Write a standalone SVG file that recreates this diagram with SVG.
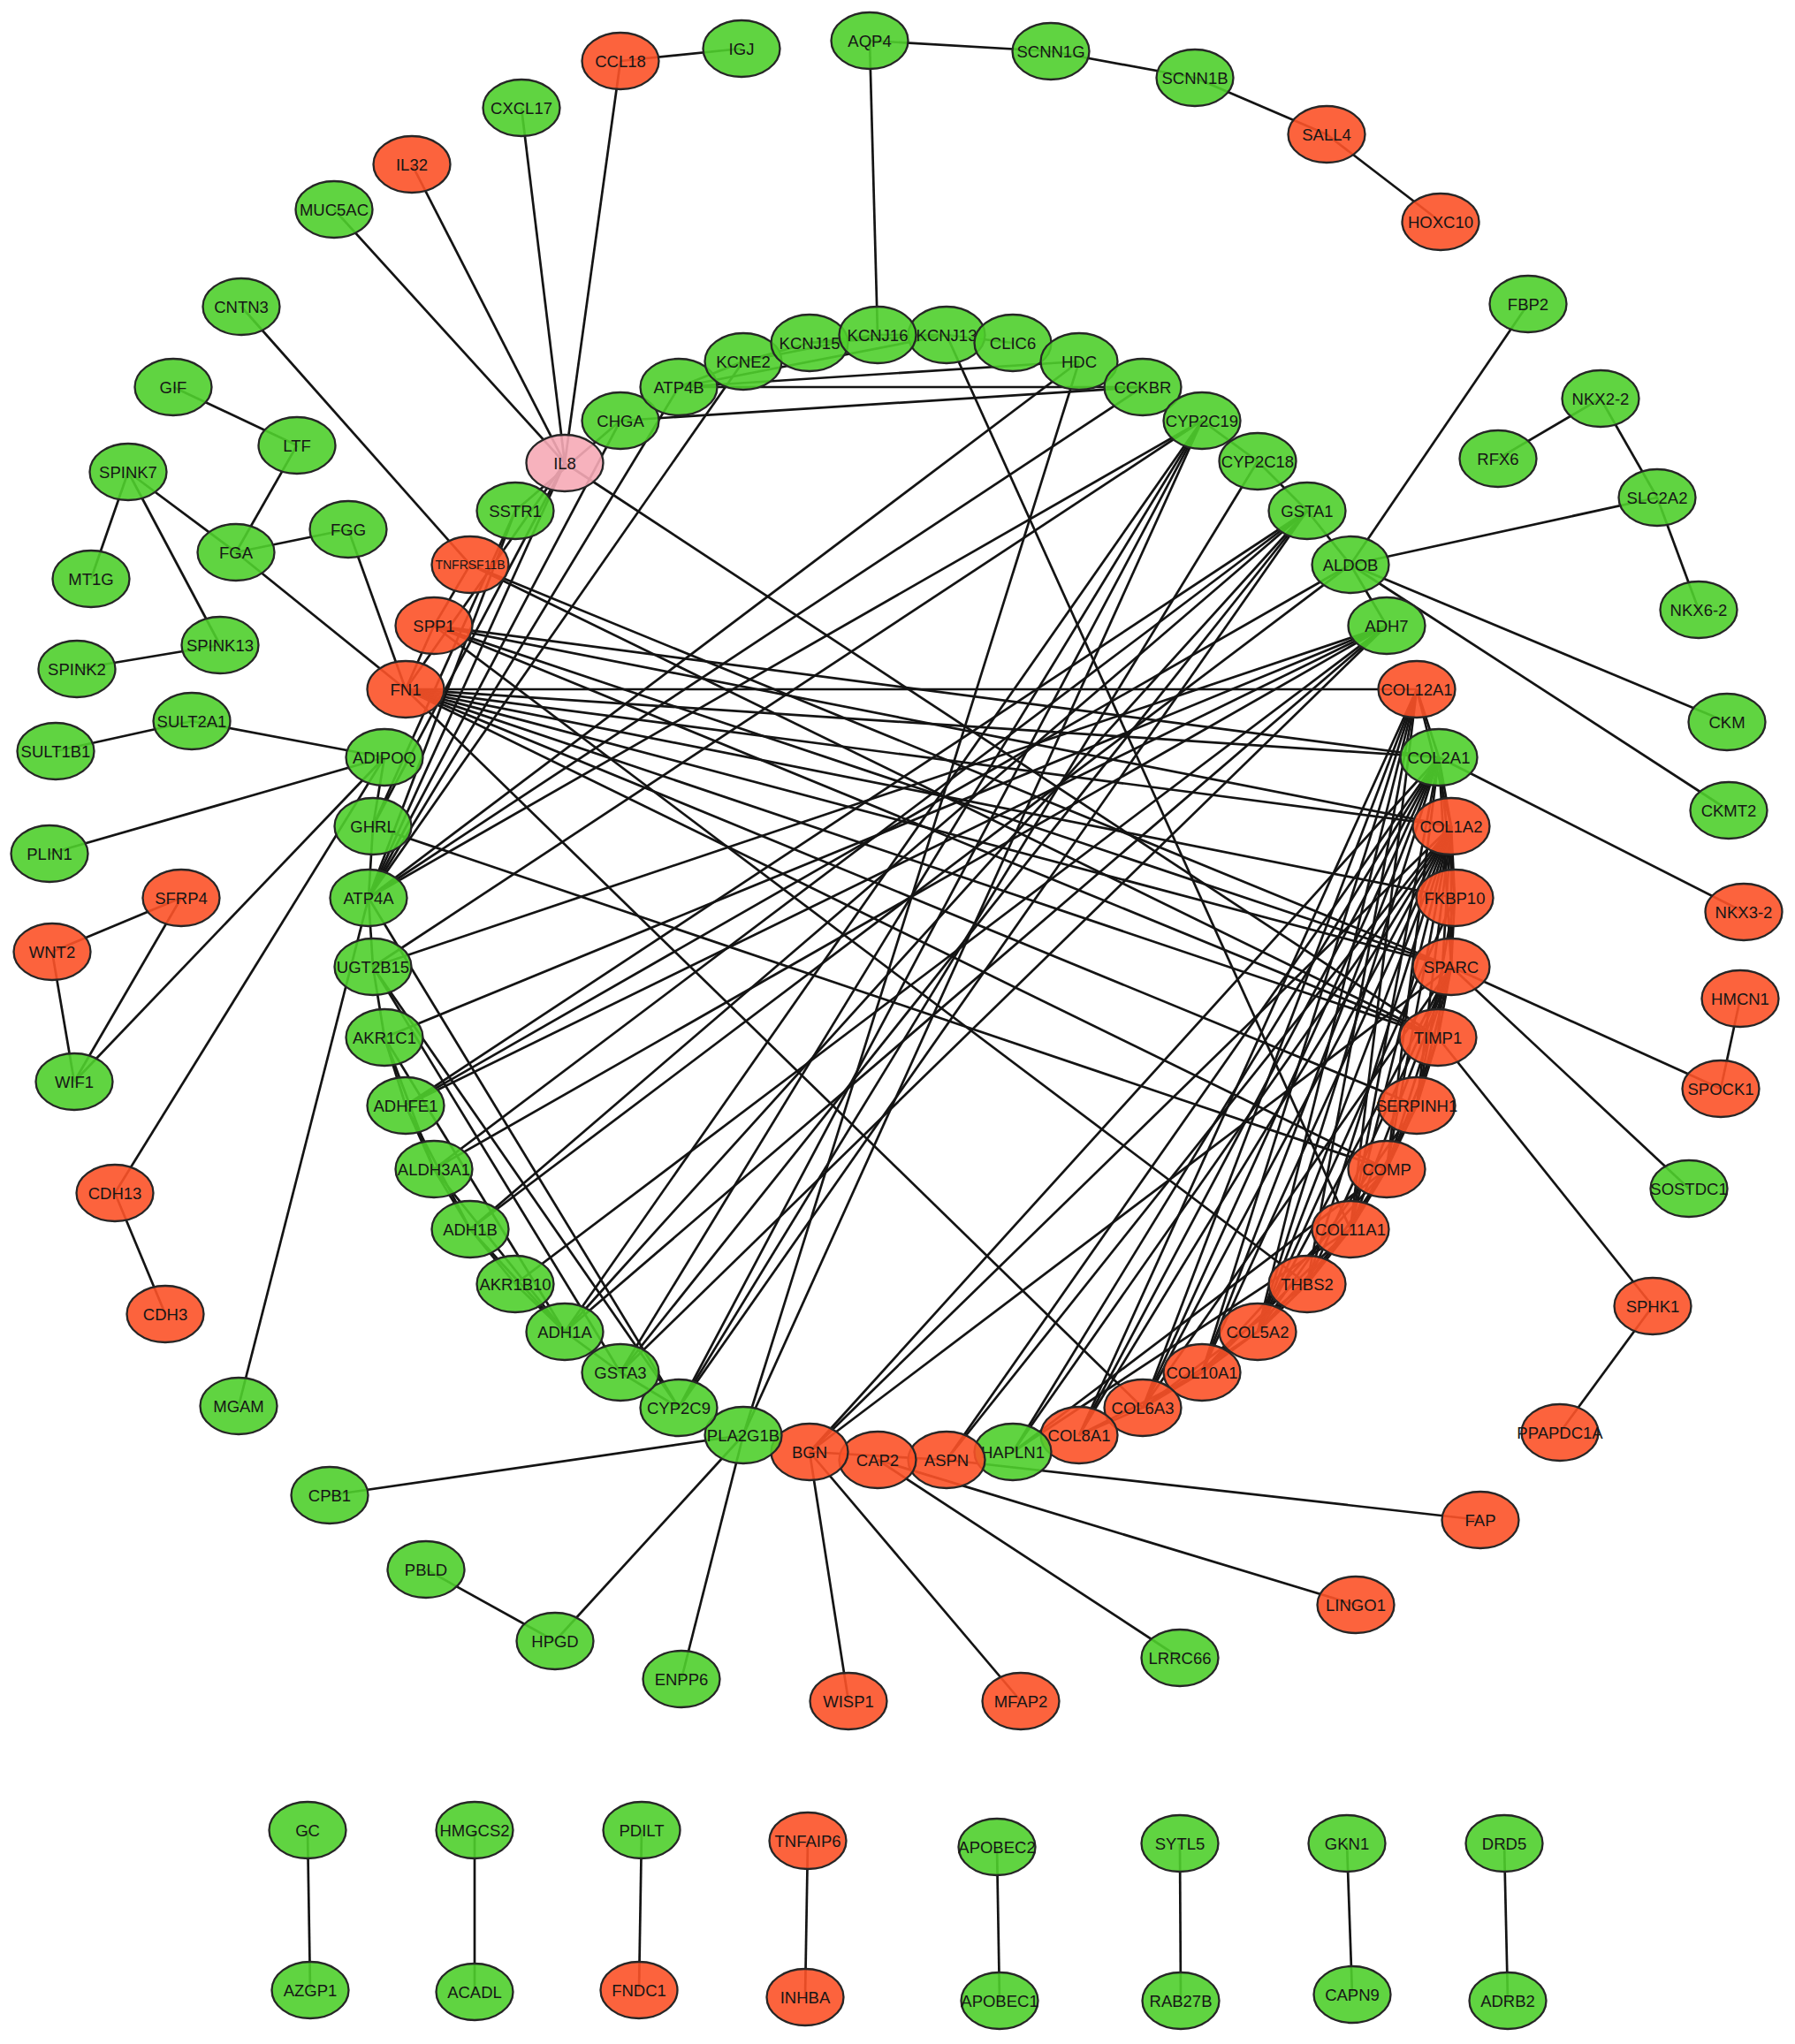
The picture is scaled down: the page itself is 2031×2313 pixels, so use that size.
<svg xmlns="http://www.w3.org/2000/svg" width="2031" height="2313" viewBox="0 0 2031 2313">
<style>
.e line{stroke:#141414;stroke-width:2.7}
.n ellipse{stroke:#262626;stroke-width:2.3;fill-opacity:.9}
.g ellipse{fill:#4fcf2c}
.r ellipse{fill:#fc5228}
.p ellipse{fill:#f6aab6}
.n text{font-family:"Liberation Sans",Arial,sans-serif;font-size:18.5px;text-anchor:middle;fill:#161616}
.n text.s{font-size:14px}
</style>
<rect width="2031" height="2313" fill="#fff"/>
<g id="edges" class="e">
<line x1="702" y1="69" x2="839" y2="55"/>
<line x1="702" y1="69" x2="639" y2="524"/>
<line x1="590" y1="122" x2="639" y2="524"/>
<line x1="466" y1="186" x2="639" y2="524"/>
<line x1="378" y1="237" x2="639" y2="524"/>
<line x1="273" y1="347" x2="532" y2="639"/>
<line x1="196" y1="438" x2="336" y2="504"/>
<line x1="336" y1="504" x2="267" y2="625"/>
<line x1="145" y1="534" x2="103" y2="655"/>
<line x1="145" y1="534" x2="267" y2="625"/>
<line x1="145" y1="534" x2="249" y2="730"/>
<line x1="394" y1="599" x2="267" y2="625"/>
<line x1="394" y1="599" x2="459" y2="780"/>
<line x1="267" y1="625" x2="459" y2="780"/>
<line x1="249" y1="730" x2="87" y2="757"/>
<line x1="217" y1="816" x2="63" y2="850"/>
<line x1="217" y1="816" x2="435" y2="857"/>
<line x1="56" y1="966" x2="435" y2="857"/>
<line x1="205" y1="1016" x2="59" y2="1077"/>
<line x1="205" y1="1016" x2="84" y2="1224"/>
<line x1="59" y1="1077" x2="84" y2="1224"/>
<line x1="84" y1="1224" x2="435" y2="857"/>
<line x1="130" y1="1350" x2="435" y2="857"/>
<line x1="130" y1="1350" x2="187" y2="1487"/>
<line x1="270" y1="1591" x2="417" y2="1016"/>
<line x1="984" y1="46" x2="1189" y2="58"/>
<line x1="1189" y1="58" x2="1352" y2="88"/>
<line x1="1352" y1="88" x2="1501" y2="152"/>
<line x1="1501" y1="152" x2="1630" y2="251"/>
<line x1="984" y1="46" x2="993" y2="379"/>
<line x1="1729" y1="344" x2="1528" y2="639"/>
<line x1="1811" y1="451" x2="1695" y2="519"/>
<line x1="1811" y1="451" x2="1875" y2="563"/>
<line x1="1875" y1="563" x2="1922" y2="690"/>
<line x1="1875" y1="563" x2="1528" y2="639"/>
<line x1="1528" y1="639" x2="1954" y2="817"/>
<line x1="1528" y1="639" x2="1956" y2="917"/>
<line x1="1628" y1="857" x2="1973" y2="1032"/>
<line x1="1969" y1="1130" x2="1947" y2="1232"/>
<line x1="1642" y1="1094" x2="1947" y2="1232"/>
<line x1="1642" y1="1094" x2="1911" y2="1345"/>
<line x1="1627" y1="1174" x2="1870" y2="1478"/>
<line x1="1870" y1="1478" x2="1765" y2="1621"/>
<line x1="1071" y1="1652" x2="1675" y2="1720"/>
<line x1="993" y1="1652" x2="1534" y2="1816"/>
<line x1="993" y1="1652" x2="1335" y2="1876"/>
<line x1="916" y1="1643" x2="960" y2="1925"/>
<line x1="916" y1="1643" x2="1155" y2="1925"/>
<line x1="841" y1="1624" x2="373" y2="1692"/>
<line x1="841" y1="1624" x2="628" y2="1857"/>
<line x1="841" y1="1624" x2="771" y2="1900"/>
<line x1="482" y1="1776" x2="628" y2="1857"/>
<line x1="348" y1="2071" x2="351" y2="2252"/>
<line x1="537" y1="2071" x2="537" y2="2254"/>
<line x1="726" y1="2071" x2="723" y2="2252"/>
<line x1="914" y1="2083" x2="911" y2="2260"/>
<line x1="1128" y1="2090" x2="1131" y2="2264"/>
<line x1="1335" y1="2086" x2="1336" y2="2264"/>
<line x1="1524" y1="2086" x2="1530" y2="2257"/>
<line x1="1702" y1="2086" x2="1706" y2="2264"/>
<line x1="639" y1="524" x2="459" y2="780"/>
<line x1="639" y1="524" x2="1627" y2="1174"/>
<line x1="639" y1="524" x2="417" y2="1016"/>
<line x1="639" y1="524" x2="422" y2="935"/>
<line x1="702" y1="476" x2="583" y2="578"/>
<line x1="702" y1="476" x2="417" y2="1016"/>
<line x1="702" y1="476" x2="1293" y2="438"/>
<line x1="583" y1="578" x2="417" y2="1016"/>
<line x1="583" y1="578" x2="422" y2="935"/>
<line x1="768" y1="438" x2="417" y2="1016"/>
<line x1="768" y1="438" x2="1293" y2="438"/>
<line x1="768" y1="438" x2="1221" y2="409"/>
<line x1="768" y1="438" x2="841" y2="409"/>
<line x1="768" y1="438" x2="1071" y2="379"/>
<line x1="841" y1="409" x2="916" y2="388"/>
<line x1="841" y1="409" x2="993" y2="379"/>
<line x1="916" y1="388" x2="993" y2="379"/>
<line x1="993" y1="379" x2="1071" y2="379"/>
<line x1="916" y1="388" x2="1071" y2="379"/>
<line x1="1071" y1="379" x2="1146" y2="388"/>
<line x1="841" y1="409" x2="417" y2="1016"/>
<line x1="1221" y1="409" x2="417" y2="1016"/>
<line x1="1293" y1="438" x2="417" y2="1016"/>
<line x1="1071" y1="379" x2="1528" y2="1391"/>
<line x1="1360" y1="476" x2="417" y2="1016"/>
<line x1="1360" y1="476" x2="422" y2="1094"/>
<line x1="1360" y1="476" x2="1423" y2="522"/>
<line x1="1360" y1="476" x2="768" y2="1593"/>
<line x1="1360" y1="476" x2="702" y2="1553"/>
<line x1="1360" y1="476" x2="639" y2="1507"/>
<line x1="1360" y1="476" x2="841" y2="1624"/>
<line x1="1423" y1="522" x2="768" y2="1593"/>
<line x1="1423" y1="522" x2="1479" y2="578"/>
<line x1="1479" y1="578" x2="702" y2="1553"/>
<line x1="1479" y1="578" x2="768" y2="1593"/>
<line x1="1479" y1="578" x2="639" y2="1507"/>
<line x1="1479" y1="578" x2="532" y2="1391"/>
<line x1="1479" y1="578" x2="491" y2="1323"/>
<line x1="1479" y1="578" x2="459" y2="1251"/>
<line x1="1479" y1="578" x2="1528" y2="639"/>
<line x1="1528" y1="639" x2="532" y2="1391"/>
<line x1="1528" y1="639" x2="459" y2="1251"/>
<line x1="1528" y1="639" x2="1569" y2="708"/>
<line x1="1569" y1="708" x2="435" y2="1174"/>
<line x1="1569" y1="708" x2="459" y2="1251"/>
<line x1="1569" y1="708" x2="583" y2="1453"/>
<line x1="1569" y1="708" x2="639" y2="1507"/>
<line x1="1569" y1="708" x2="702" y2="1553"/>
<line x1="1569" y1="708" x2="491" y2="1323"/>
<line x1="1569" y1="708" x2="422" y2="1094"/>
<line x1="417" y1="1016" x2="768" y2="1593"/>
<line x1="422" y1="1094" x2="768" y2="1593"/>
<line x1="417" y1="1016" x2="422" y2="935"/>
<line x1="435" y1="857" x2="422" y2="935"/>
<line x1="417" y1="1016" x2="422" y2="1094"/>
<line x1="422" y1="1094" x2="435" y2="1174"/>
<line x1="435" y1="1174" x2="459" y2="1251"/>
<line x1="459" y1="1251" x2="491" y2="1323"/>
<line x1="491" y1="1323" x2="532" y2="1391"/>
<line x1="532" y1="1391" x2="583" y2="1453"/>
<line x1="583" y1="1453" x2="639" y2="1507"/>
<line x1="639" y1="1507" x2="702" y2="1553"/>
<line x1="702" y1="1553" x2="768" y2="1593"/>
<line x1="435" y1="1174" x2="639" y2="1507"/>
<line x1="459" y1="1251" x2="532" y2="1391"/>
<line x1="491" y1="1323" x2="639" y2="1507"/>
<line x1="532" y1="1391" x2="639" y2="1507"/>
<line x1="435" y1="1174" x2="491" y2="1323"/>
<line x1="422" y1="1094" x2="702" y2="1553"/>
<line x1="459" y1="780" x2="491" y2="708"/>
<line x1="459" y1="780" x2="1603" y2="780"/>
<line x1="459" y1="780" x2="1628" y2="857"/>
<line x1="459" y1="780" x2="1642" y2="935"/>
<line x1="459" y1="780" x2="1646" y2="1016"/>
<line x1="459" y1="780" x2="1642" y2="1094"/>
<line x1="459" y1="780" x2="1627" y2="1174"/>
<line x1="459" y1="780" x2="1603" y2="1251"/>
<line x1="459" y1="780" x2="1569" y2="1323"/>
<line x1="459" y1="780" x2="1293" y2="1593"/>
<line x1="491" y1="708" x2="1628" y2="857"/>
<line x1="491" y1="708" x2="1642" y2="935"/>
<line x1="491" y1="708" x2="1642" y2="1094"/>
<line x1="491" y1="708" x2="1627" y2="1174"/>
<line x1="491" y1="708" x2="1479" y2="1453"/>
<line x1="491" y1="708" x2="532" y2="639"/>
<line x1="532" y1="639" x2="1642" y2="1094"/>
<line x1="532" y1="639" x2="1627" y2="1174"/>
<line x1="422" y1="935" x2="1569" y2="1323"/>
<line x1="841" y1="1624" x2="1221" y2="409"/>
<line x1="1603" y1="780" x2="1628" y2="857"/>
<line x1="1603" y1="780" x2="1642" y2="935"/>
<line x1="1603" y1="780" x2="1528" y2="1391"/>
<line x1="1603" y1="780" x2="1479" y2="1453"/>
<line x1="1603" y1="780" x2="1423" y2="1507"/>
<line x1="1603" y1="780" x2="1360" y2="1553"/>
<line x1="1603" y1="780" x2="1293" y2="1593"/>
<line x1="1603" y1="780" x2="1221" y2="1624"/>
<line x1="1628" y1="857" x2="1642" y2="935"/>
<line x1="1628" y1="857" x2="1646" y2="1016"/>
<line x1="1628" y1="857" x2="1642" y2="1094"/>
<line x1="1628" y1="857" x2="1569" y2="1323"/>
<line x1="1628" y1="857" x2="1528" y2="1391"/>
<line x1="1628" y1="857" x2="1423" y2="1507"/>
<line x1="1628" y1="857" x2="1360" y2="1553"/>
<line x1="1628" y1="857" x2="1293" y2="1593"/>
<line x1="1628" y1="857" x2="1221" y2="1624"/>
<line x1="1628" y1="857" x2="1146" y2="1643"/>
<line x1="1628" y1="857" x2="1071" y2="1652"/>
<line x1="1628" y1="857" x2="916" y2="1643"/>
<line x1="1642" y1="935" x2="1646" y2="1016"/>
<line x1="1642" y1="935" x2="1642" y2="1094"/>
<line x1="1642" y1="935" x2="1627" y2="1174"/>
<line x1="1642" y1="935" x2="1603" y2="1251"/>
<line x1="1642" y1="935" x2="1569" y2="1323"/>
<line x1="1642" y1="935" x2="1528" y2="1391"/>
<line x1="1642" y1="935" x2="1479" y2="1453"/>
<line x1="1642" y1="935" x2="1423" y2="1507"/>
<line x1="1642" y1="935" x2="1360" y2="1553"/>
<line x1="1642" y1="935" x2="1293" y2="1593"/>
<line x1="1642" y1="935" x2="1221" y2="1624"/>
<line x1="1642" y1="935" x2="1146" y2="1643"/>
<line x1="1642" y1="935" x2="1071" y2="1652"/>
<line x1="1642" y1="935" x2="916" y2="1643"/>
<line x1="1646" y1="1016" x2="1642" y2="1094"/>
<line x1="1646" y1="1016" x2="1603" y2="1251"/>
<line x1="1646" y1="1016" x2="1423" y2="1507"/>
<line x1="1642" y1="1094" x2="1627" y2="1174"/>
<line x1="1642" y1="1094" x2="1603" y2="1251"/>
<line x1="1642" y1="1094" x2="1569" y2="1323"/>
<line x1="1642" y1="1094" x2="1528" y2="1391"/>
<line x1="1642" y1="1094" x2="1479" y2="1453"/>
<line x1="1642" y1="1094" x2="1423" y2="1507"/>
<line x1="1642" y1="1094" x2="1293" y2="1593"/>
<line x1="1642" y1="1094" x2="916" y2="1643"/>
<line x1="1627" y1="1174" x2="1603" y2="1251"/>
<line x1="1627" y1="1174" x2="1569" y2="1323"/>
<line x1="1603" y1="1251" x2="1569" y2="1323"/>
<line x1="1603" y1="1251" x2="1528" y2="1391"/>
<line x1="1603" y1="1251" x2="1423" y2="1507"/>
<line x1="1569" y1="1323" x2="1528" y2="1391"/>
<line x1="1569" y1="1323" x2="1479" y2="1453"/>
<line x1="1569" y1="1323" x2="1360" y2="1553"/>
<line x1="1569" y1="1323" x2="1146" y2="1643"/>
<line x1="1528" y1="1391" x2="1479" y2="1453"/>
<line x1="1528" y1="1391" x2="1423" y2="1507"/>
<line x1="1528" y1="1391" x2="1360" y2="1553"/>
<line x1="1528" y1="1391" x2="1146" y2="1643"/>
<line x1="1479" y1="1453" x2="1423" y2="1507"/>
<line x1="1479" y1="1453" x2="1293" y2="1593"/>
<line x1="1423" y1="1507" x2="1360" y2="1553"/>
<line x1="1423" y1="1507" x2="1293" y2="1593"/>
<line x1="1360" y1="1553" x2="1293" y2="1593"/>
<line x1="1360" y1="1553" x2="1221" y2="1624"/>
<line x1="1293" y1="1593" x2="1221" y2="1624"/>
<line x1="1071" y1="1652" x2="916" y2="1643"/>
</g>
<g id="nodes">
<g id="n-CCL18" class="n r"><ellipse cx="702" cy="69" rx="43.5" ry="32"/><text x="702" y="75.5">CCL18</text></g>
<g id="n-IGJ" class="n g"><ellipse cx="839" cy="55" rx="43.5" ry="32"/><text x="839" y="61.5">IGJ</text></g>
<g id="n-CXCL17" class="n g"><ellipse cx="590" cy="122" rx="43.5" ry="32"/><text x="590" y="128.5">CXCL17</text></g>
<g id="n-IL32" class="n r"><ellipse cx="466" cy="186" rx="43.5" ry="32"/><text x="466" y="192.5">IL32</text></g>
<g id="n-MUC5AC" class="n g"><ellipse cx="378" cy="237" rx="43.5" ry="32"/><text x="378" y="243.5">MUC5AC</text></g>
<g id="n-CNTN3" class="n g"><ellipse cx="273" cy="347" rx="43.5" ry="32"/><text x="273" y="353.5">CNTN3</text></g>
<g id="n-GIF" class="n g"><ellipse cx="196" cy="438" rx="43.5" ry="32"/><text x="196" y="444.5">GIF</text></g>
<g id="n-LTF" class="n g"><ellipse cx="336" cy="504" rx="43.5" ry="32"/><text x="336" y="510.5">LTF</text></g>
<g id="n-SPINK7" class="n g"><ellipse cx="145" cy="534" rx="43.5" ry="32"/><text x="145" y="540.5">SPINK7</text></g>
<g id="n-FGG" class="n g"><ellipse cx="394" cy="599" rx="43.5" ry="32"/><text x="394" y="605.5">FGG</text></g>
<g id="n-FGA" class="n g"><ellipse cx="267" cy="625" rx="43.5" ry="32"/><text x="267" y="631.5">FGA</text></g>
<g id="n-MT1G" class="n g"><ellipse cx="103" cy="655" rx="43.5" ry="32"/><text x="103" y="661.5">MT1G</text></g>
<g id="n-SPINK13" class="n g"><ellipse cx="249" cy="730" rx="43.5" ry="32"/><text x="249" y="736.5">SPINK13</text></g>
<g id="n-SPINK2" class="n g"><ellipse cx="87" cy="757" rx="43.5" ry="32"/><text x="87" y="763.5">SPINK2</text></g>
<g id="n-SULT2A1" class="n g"><ellipse cx="217" cy="816" rx="43.5" ry="32"/><text x="217" y="822.5">SULT2A1</text></g>
<g id="n-SULT1B1" class="n g"><ellipse cx="63" cy="850" rx="43.5" ry="32"/><text x="63" y="856.5">SULT1B1</text></g>
<g id="n-PLIN1" class="n g"><ellipse cx="56" cy="966" rx="43.5" ry="32"/><text x="56" y="972.5">PLIN1</text></g>
<g id="n-SFRP4" class="n r"><ellipse cx="205" cy="1016" rx="43.5" ry="32"/><text x="205" y="1022.5">SFRP4</text></g>
<g id="n-WNT2" class="n r"><ellipse cx="59" cy="1077" rx="43.5" ry="32"/><text x="59" y="1083.5">WNT2</text></g>
<g id="n-WIF1" class="n g"><ellipse cx="84" cy="1224" rx="43.5" ry="32"/><text x="84" y="1230.5">WIF1</text></g>
<g id="n-CDH13" class="n r"><ellipse cx="130" cy="1350" rx="43.5" ry="32"/><text x="130" y="1356.5">CDH13</text></g>
<g id="n-CDH3" class="n r"><ellipse cx="187" cy="1487" rx="43.5" ry="32"/><text x="187" y="1493.5">CDH3</text></g>
<g id="n-MGAM" class="n g"><ellipse cx="270" cy="1591" rx="43.5" ry="32"/><text x="270" y="1597.5">MGAM</text></g>
<g id="n-AQP4" class="n g"><ellipse cx="984" cy="46" rx="43.5" ry="32"/><text x="984" y="52.5">AQP4</text></g>
<g id="n-SCNN1G" class="n g"><ellipse cx="1189" cy="58" rx="43.5" ry="32"/><text x="1189" y="64.5">SCNN1G</text></g>
<g id="n-SCNN1B" class="n g"><ellipse cx="1352" cy="88" rx="43.5" ry="32"/><text x="1352" y="94.5">SCNN1B</text></g>
<g id="n-SALL4" class="n r"><ellipse cx="1501" cy="152" rx="43.5" ry="32"/><text x="1501" y="158.5">SALL4</text></g>
<g id="n-HOXC10" class="n r"><ellipse cx="1630" cy="251" rx="43.5" ry="32"/><text x="1630" y="257.5">HOXC10</text></g>
<g id="n-FBP2" class="n g"><ellipse cx="1729" cy="344" rx="43.5" ry="32"/><text x="1729" y="350.5">FBP2</text></g>
<g id="n-NKX2-2" class="n g"><ellipse cx="1811" cy="451" rx="43.5" ry="32"/><text x="1811" y="457.5">NKX2-2</text></g>
<g id="n-RFX6" class="n g"><ellipse cx="1695" cy="519" rx="43.5" ry="32"/><text x="1695" y="525.5">RFX6</text></g>
<g id="n-SLC2A2" class="n g"><ellipse cx="1875" cy="563" rx="43.5" ry="32"/><text x="1875" y="569.5">SLC2A2</text></g>
<g id="n-NKX6-2" class="n g"><ellipse cx="1922" cy="690" rx="43.5" ry="32"/><text x="1922" y="696.5">NKX6-2</text></g>
<g id="n-CKM" class="n g"><ellipse cx="1954" cy="817" rx="43.5" ry="32"/><text x="1954" y="823.5">CKM</text></g>
<g id="n-CKMT2" class="n g"><ellipse cx="1956" cy="917" rx="43.5" ry="32"/><text x="1956" y="923.5">CKMT2</text></g>
<g id="n-NKX3-2" class="n r"><ellipse cx="1973" cy="1032" rx="43.5" ry="32"/><text x="1973" y="1038.5">NKX3-2</text></g>
<g id="n-HMCN1" class="n r"><ellipse cx="1969" cy="1130" rx="43.5" ry="32"/><text x="1969" y="1136.5">HMCN1</text></g>
<g id="n-SPOCK1" class="n r"><ellipse cx="1947" cy="1232" rx="43.5" ry="32"/><text x="1947" y="1238.5">SPOCK1</text></g>
<g id="n-SOSTDC1" class="n g"><ellipse cx="1911" cy="1345" rx="43.5" ry="32"/><text x="1911" y="1351.5">SOSTDC1</text></g>
<g id="n-SPHK1" class="n r"><ellipse cx="1870" cy="1478" rx="43.5" ry="32"/><text x="1870" y="1484.5">SPHK1</text></g>
<g id="n-PPAPDC1A" class="n r"><ellipse cx="1765" cy="1621" rx="43.5" ry="32"/><text x="1765" y="1627.5">PPAPDC1A</text></g>
<g id="n-FAP" class="n r"><ellipse cx="1675" cy="1720" rx="43.5" ry="32"/><text x="1675" y="1726.5">FAP</text></g>
<g id="n-LINGO1" class="n r"><ellipse cx="1534" cy="1816" rx="43.5" ry="32"/><text x="1534" y="1822.5">LINGO1</text></g>
<g id="n-LRRC66" class="n g"><ellipse cx="1335" cy="1876" rx="43.5" ry="32"/><text x="1335" y="1882.5">LRRC66</text></g>
<g id="n-MFAP2" class="n r"><ellipse cx="1155" cy="1925" rx="43.5" ry="32"/><text x="1155" y="1931.5">MFAP2</text></g>
<g id="n-WISP1" class="n r"><ellipse cx="960" cy="1925" rx="43.5" ry="32"/><text x="960" y="1931.5">WISP1</text></g>
<g id="n-ENPP6" class="n g"><ellipse cx="771" cy="1900" rx="43.5" ry="32"/><text x="771" y="1906.5">ENPP6</text></g>
<g id="n-HPGD" class="n g"><ellipse cx="628" cy="1857" rx="43.5" ry="32"/><text x="628" y="1863.5">HPGD</text></g>
<g id="n-PBLD" class="n g"><ellipse cx="482" cy="1776" rx="43.5" ry="32"/><text x="482" y="1782.5">PBLD</text></g>
<g id="n-CPB1" class="n g"><ellipse cx="373" cy="1692" rx="43.5" ry="32"/><text x="373" y="1698.5">CPB1</text></g>
<g id="n-IL8" class="n p"><ellipse cx="639" cy="524" rx="43.5" ry="32"/><text x="639" y="530.5">IL8</text></g>
<g id="n-CHGA" class="n g"><ellipse cx="702" cy="476" rx="43.5" ry="32"/><text x="702" y="482.5">CHGA</text></g>
<g id="n-ATP4B" class="n g"><ellipse cx="768" cy="438" rx="43.5" ry="32"/><text x="768" y="444.5">ATP4B</text></g>
<g id="n-KCNE2" class="n g"><ellipse cx="841" cy="409" rx="43.5" ry="32"/><text x="841" y="415.5">KCNE2</text></g>
<g id="n-KCNJ15" class="n g"><ellipse cx="916" cy="388" rx="43.5" ry="32"/><text x="916" y="394.5">KCNJ15</text></g>
<g id="n-KCNJ13" class="n g"><ellipse cx="1071" cy="379" rx="43.5" ry="32"/><text x="1071" y="385.5">KCNJ13</text></g>
<g id="n-KCNJ16" class="n g"><ellipse cx="993" cy="379" rx="43.5" ry="32"/><text x="993" y="385.5">KCNJ16</text></g>
<g id="n-CLIC6" class="n g"><ellipse cx="1146" cy="388" rx="43.5" ry="32"/><text x="1146" y="394.5">CLIC6</text></g>
<g id="n-HDC" class="n g"><ellipse cx="1221" cy="409" rx="43.5" ry="32"/><text x="1221" y="415.5">HDC</text></g>
<g id="n-CCKBR" class="n g"><ellipse cx="1293" cy="438" rx="43.5" ry="32"/><text x="1293" y="444.5">CCKBR</text></g>
<g id="n-CYP2C19" class="n g"><ellipse cx="1360" cy="476" rx="43.5" ry="32"/><text x="1360" y="482.5">CYP2C19</text></g>
<g id="n-CYP2C18" class="n g"><ellipse cx="1423" cy="522" rx="43.5" ry="32"/><text x="1423" y="528.5">CYP2C18</text></g>
<g id="n-GSTA1" class="n g"><ellipse cx="1479" cy="578" rx="43.5" ry="32"/><text x="1479" y="584.5">GSTA1</text></g>
<g id="n-ALDOB" class="n g"><ellipse cx="1528" cy="639" rx="43.5" ry="32"/><text x="1528" y="645.5">ALDOB</text></g>
<g id="n-ADH7" class="n g"><ellipse cx="1569" cy="708" rx="43.5" ry="32"/><text x="1569" y="714.5">ADH7</text></g>
<g id="n-COL12A1" class="n r"><ellipse cx="1603" cy="780" rx="43.5" ry="32"/><text x="1603" y="786.5">COL12A1</text></g>
<g id="n-COL2A1" class="n g"><ellipse cx="1628" cy="857" rx="43.5" ry="32"/><text x="1628" y="863.5">COL2A1</text></g>
<g id="n-COL1A2" class="n r"><ellipse cx="1642" cy="935" rx="43.5" ry="32"/><text x="1642" y="941.5">COL1A2</text></g>
<g id="n-FKBP10" class="n r"><ellipse cx="1646" cy="1016" rx="43.5" ry="32"/><text x="1646" y="1022.5">FKBP10</text></g>
<g id="n-SPARC" class="n r"><ellipse cx="1642" cy="1094" rx="43.5" ry="32"/><text x="1642" y="1100.5">SPARC</text></g>
<g id="n-TIMP1" class="n r"><ellipse cx="1627" cy="1174" rx="43.5" ry="32"/><text x="1627" y="1180.5">TIMP1</text></g>
<g id="n-SERPINH1" class="n r"><ellipse cx="1603" cy="1251" rx="43.5" ry="32"/><text x="1603" y="1257.5">SERPINH1</text></g>
<g id="n-COMP" class="n r"><ellipse cx="1569" cy="1323" rx="43.5" ry="32"/><text x="1569" y="1329.5">COMP</text></g>
<g id="n-COL11A1" class="n r"><ellipse cx="1528" cy="1391" rx="43.5" ry="32"/><text x="1528" y="1397.5">COL11A1</text></g>
<g id="n-THBS2" class="n r"><ellipse cx="1479" cy="1453" rx="43.5" ry="32"/><text x="1479" y="1459.5">THBS2</text></g>
<g id="n-COL5A2" class="n r"><ellipse cx="1423" cy="1507" rx="43.5" ry="32"/><text x="1423" y="1513.5">COL5A2</text></g>
<g id="n-COL10A1" class="n r"><ellipse cx="1360" cy="1553" rx="43.5" ry="32"/><text x="1360" y="1559.5">COL10A1</text></g>
<g id="n-COL6A3" class="n r"><ellipse cx="1293" cy="1593" rx="43.5" ry="32"/><text x="1293" y="1599.5">COL6A3</text></g>
<g id="n-COL8A1" class="n r"><ellipse cx="1221" cy="1624" rx="43.5" ry="32"/><text x="1221" y="1630.5">COL8A1</text></g>
<g id="n-HAPLN1" class="n g"><ellipse cx="1146" cy="1643" rx="43.5" ry="32"/><text x="1146" y="1649.5">HAPLN1</text></g>
<g id="n-ASPN" class="n r"><ellipse cx="1071" cy="1652" rx="43.5" ry="32"/><text x="1071" y="1658.5">ASPN</text></g>
<g id="n-CAP2" class="n r"><ellipse cx="993" cy="1652" rx="43.5" ry="32"/><text x="993" y="1658.5">CAP2</text></g>
<g id="n-BGN" class="n r"><ellipse cx="916" cy="1643" rx="43.5" ry="32"/><text x="916" y="1649.5">BGN</text></g>
<g id="n-PLA2G1B" class="n g"><ellipse cx="841" cy="1624" rx="43.5" ry="32"/><text x="841" y="1630.5">PLA2G1B</text></g>
<g id="n-CYP2C9" class="n g"><ellipse cx="768" cy="1593" rx="43.5" ry="32"/><text x="768" y="1599.5">CYP2C9</text></g>
<g id="n-GSTA3" class="n g"><ellipse cx="702" cy="1553" rx="43.5" ry="32"/><text x="702" y="1559.5">GSTA3</text></g>
<g id="n-ADH1A" class="n g"><ellipse cx="639" cy="1507" rx="43.5" ry="32"/><text x="639" y="1513.5">ADH1A</text></g>
<g id="n-AKR1B10" class="n g"><ellipse cx="583" cy="1453" rx="43.5" ry="32"/><text x="583" y="1459.5">AKR1B10</text></g>
<g id="n-ADH1B" class="n g"><ellipse cx="532" cy="1391" rx="43.5" ry="32"/><text x="532" y="1397.5">ADH1B</text></g>
<g id="n-ALDH3A1" class="n g"><ellipse cx="491" cy="1323" rx="43.5" ry="32"/><text x="491" y="1329.5">ALDH3A1</text></g>
<g id="n-ADHFE1" class="n g"><ellipse cx="459" cy="1251" rx="43.5" ry="32"/><text x="459" y="1257.5">ADHFE1</text></g>
<g id="n-AKR1C1" class="n g"><ellipse cx="435" cy="1174" rx="43.5" ry="32"/><text x="435" y="1180.5">AKR1C1</text></g>
<g id="n-UGT2B15" class="n g"><ellipse cx="422" cy="1094" rx="43.5" ry="32"/><text x="422" y="1100.5">UGT2B15</text></g>
<g id="n-ATP4A" class="n g"><ellipse cx="417" cy="1016" rx="43.5" ry="32"/><text x="417" y="1022.5">ATP4A</text></g>
<g id="n-GHRL" class="n g"><ellipse cx="422" cy="935" rx="43.5" ry="32"/><text x="422" y="941.5">GHRL</text></g>
<g id="n-ADIPOQ" class="n g"><ellipse cx="435" cy="857" rx="43.5" ry="32"/><text x="435" y="863.5">ADIPOQ</text></g>
<g id="n-FN1" class="n r"><ellipse cx="459" cy="780" rx="43.5" ry="32"/><text x="459" y="786.5">FN1</text></g>
<g id="n-SPP1" class="n r"><ellipse cx="491" cy="708" rx="43.5" ry="32"/><text x="491" y="714.5">SPP1</text></g>
<g id="n-TNFRSF11B" class="n r"><ellipse cx="532" cy="639" rx="43.5" ry="32"/><text class="s" x="532" y="644">TNFRSF11B</text></g>
<g id="n-SSTR1" class="n g"><ellipse cx="583" cy="578" rx="43.5" ry="32"/><text x="583" y="584.5">SSTR1</text></g>
<g id="n-GC" class="n g"><ellipse cx="348" cy="2071" rx="43.5" ry="32"/><text x="348" y="2077.5">GC</text></g>
<g id="n-AZGP1" class="n g"><ellipse cx="351" cy="2252" rx="43.5" ry="32"/><text x="351" y="2258.5">AZGP1</text></g>
<g id="n-HMGCS2" class="n g"><ellipse cx="537" cy="2071" rx="43.5" ry="32"/><text x="537" y="2077.5">HMGCS2</text></g>
<g id="n-ACADL" class="n g"><ellipse cx="537" cy="2254" rx="43.5" ry="32"/><text x="537" y="2260.5">ACADL</text></g>
<g id="n-PDILT" class="n g"><ellipse cx="726" cy="2071" rx="43.5" ry="32"/><text x="726" y="2077.5">PDILT</text></g>
<g id="n-FNDC1" class="n r"><ellipse cx="723" cy="2252" rx="43.5" ry="32"/><text x="723" y="2258.5">FNDC1</text></g>
<g id="n-TNFAIP6" class="n r"><ellipse cx="914" cy="2083" rx="43.5" ry="32"/><text x="914" y="2089.5">TNFAIP6</text></g>
<g id="n-INHBA" class="n r"><ellipse cx="911" cy="2260" rx="43.5" ry="32"/><text x="911" y="2266.5">INHBA</text></g>
<g id="n-APOBEC2" class="n g"><ellipse cx="1128" cy="2090" rx="43.5" ry="32"/><text x="1128" y="2096.5">APOBEC2</text></g>
<g id="n-APOBEC1" class="n g"><ellipse cx="1131" cy="2264" rx="43.5" ry="32"/><text x="1131" y="2270.5">APOBEC1</text></g>
<g id="n-SYTL5" class="n g"><ellipse cx="1335" cy="2086" rx="43.5" ry="32"/><text x="1335" y="2092.5">SYTL5</text></g>
<g id="n-RAB27B" class="n g"><ellipse cx="1336" cy="2264" rx="43.5" ry="32"/><text x="1336" y="2270.5">RAB27B</text></g>
<g id="n-GKN1" class="n g"><ellipse cx="1524" cy="2086" rx="43.5" ry="32"/><text x="1524" y="2092.5">GKN1</text></g>
<g id="n-CAPN9" class="n g"><ellipse cx="1530" cy="2257" rx="43.5" ry="32"/><text x="1530" y="2263.5">CAPN9</text></g>
<g id="n-DRD5" class="n g"><ellipse cx="1702" cy="2086" rx="43.5" ry="32"/><text x="1702" y="2092.5">DRD5</text></g>
<g id="n-ADRB2" class="n g"><ellipse cx="1706" cy="2264" rx="43.5" ry="32"/><text x="1706" y="2270.5">ADRB2</text></g>
</g>
</svg>
